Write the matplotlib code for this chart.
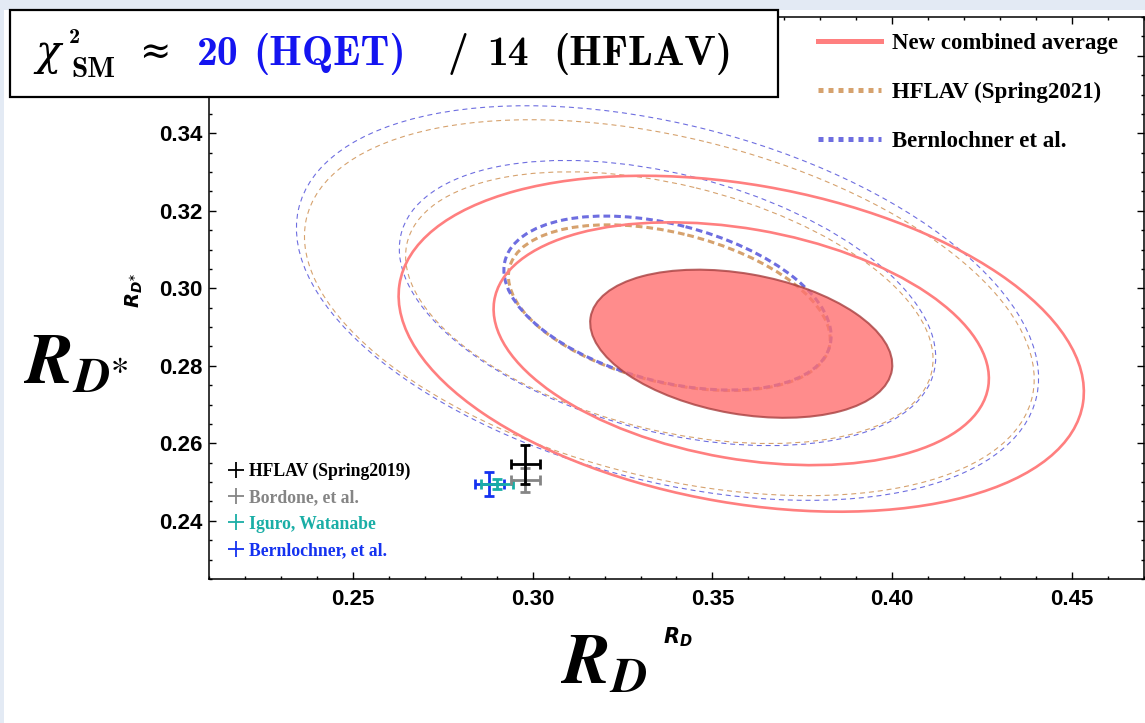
import numpy as np
import matplotlib
matplotlib.use("Agg")
import matplotlib.pyplot as plt
from matplotlib.patches import Ellipse, Rectangle
from matplotlib.lines import Line2D
from matplotlib.ticker import MultipleLocator, FormatStrFormatter, FuncFormatter

W, H = 1145, 723

# SM predictions (R_D, R_D*)
sm_names = ["HFLAV (Spring2019)", "Bordone, et al.", "Iguro, Watanabe", "Bernlochner, et al."]
sm_colors = ["#000000", "#858585", "#1aaea6", "#1432f0"]
sm_rd = [0.298, 0.298, 0.290, 0.288]
sm_rd_err = [0.004, 0.004, 0.0044, 0.004]
sm_rds = [0.2546, 0.2506, 0.2494, 0.2496]
sm_rds_err = [0.005, 0.0031, 0.0013, 0.0031]

# averages: centre, errors, correlation
fit_names = ["New combined average", "HFLAV (Spring2021)", "Bernlochner et al."]
fit_colors = ["#ff7f7f", "#d6a26e", "#6e6ee0"]
fit_rd = [0.358, 0.338, 0.3375]
fit_rds = [0.2857, 0.295, 0.2962]
fit_rd_err = [0.0277, 0.0295, 0.0300]
fit_rds_err = [0.0126, 0.0141, 0.0148]
fit_rho = [-0.286, -0.38, -0.38]
dchi2 = [2.30, 6.18, 11.83]  # 1,2,3 sigma for 2 dof

xticks = [0.25, 0.30, 0.35, 0.40, 0.45]
yticks = [0.24, 0.26, 0.28, 0.30, 0.32, 0.34, 0.36]


def px(x, y):
    # pixel (from top left) -> figure fraction
    return x / W, 1 - y / H


def ellipse(i, level, **kw):
    sx, sy, r = fit_rd_err[i], fit_rds_err[i], fit_rho[i]
    cov = np.array([[sx * sx, r * sx * sy], [r * sx * sy, sy * sy]])
    vals, vecs = np.linalg.eigh(cov)
    ang = np.degrees(np.arctan2(vecs[1, 1], vecs[0, 1]))
    return Ellipse((fit_rd[i], fit_rds[i]), 2 * np.sqrt(vals[1] * level),
                   2 * np.sqrt(vals[0] * level), angle=ang, **kw)


fig = plt.figure(figsize=(W / 100, H / 100), dpi=100)
fig.patch.set_facecolor("#e3eaf4")
fig.add_artist(Rectangle((4 / W, 0), 1, 1 - 10 / H, transform=fig.transFigure,
                         facecolor="white", edgecolor="none", zorder=-10))

l, b = px(209, 579)
r, t = px(1144, 17)
ax = fig.add_axes([l, b, r - l, t - b])
ax.set_xlim(0.21, 0.47)
ax.set_ylim(0.225, 0.37)

# dashed contours: HFLAV and Bernlochner
for i in [1, 2]:
    ax.add_patch(ellipse(i, dchi2[0], fill=False, edgecolor=fit_colors[i], lw=2.2,
                         ls=(0, (2.2, 1.3)), zorder=2))
    for lev in dchi2[1:]:
        ax.add_patch(ellipse(i, lev, fill=False, edgecolor=fit_colors[i], lw=0.8,
                             ls=(0, (4.5, 3.5)), zorder=2))

# new combined average
ax.add_patch(ellipse(0, dchi2[0], facecolor="#ff7070", edgecolor="#a84040", lw=1.5,
                     alpha=0.8, zorder=3))
for lev in dchi2[1:]:
    ax.add_patch(ellipse(0, lev, fill=False, edgecolor=fit_colors[0], lw=1.9, zorder=3))

# SM points
for i in [3, 2, 1, 0]:
    ax.errorbar(sm_rd[i], sm_rds[i], xerr=sm_rd_err[i], yerr=sm_rds_err[i],
                color=sm_colors[i], lw=2, capsize=3.5, capthick=2, zorder=4)

ax.xaxis.set_minor_locator(MultipleLocator(0.01))
ax.yaxis.set_minor_locator(MultipleLocator(0.005))
ax.set_xticks(xticks)
ax.set_yticks(yticks)
ax.xaxis.set_major_formatter(FormatStrFormatter("%.2f"))
# the 0.36 label sits behind the title box, leave it empty
ax.yaxis.set_major_formatter(FuncFormatter(lambda v, p: "" if v > 0.35 else "%.2f" % v))
ax.tick_params(which="both", direction="in", top=True, right=True, width=1)
ax.tick_params(which="major", length=5)
ax.tick_params(which="minor", length=2.5)
ax.tick_params(axis="x", pad=7)
ax.tick_params(axis="y", pad=5)
for lab in ax.get_xticklabels() + ax.get_yticklabels():
    lab.set_fontfamily("Liberation Sans")
    lab.set_fontweight("bold")
    lab.set_fontsize(16)
for s in ax.spines.values():
    s.set_linewidth(1.1)

# legends
h1 = [Line2D([], [], color=fit_colors[0], lw=3.6),
      Line2D([], [], color=fit_colors[1], lw=3.6, ls=(0, (1, 1))),
      Line2D([], [], color=fit_colors[2], lw=3.6, ls=(0, (1, 1)))]
leg1 = ax.legend(h1, fit_names, loc="upper left", bbox_to_anchor=px(818, 33),
                 bbox_transform=fig.transFigure, frameon=False,
                 prop={"family": "Liberation Serif", "weight": "bold", "size": 16.5},
                 handlelength=2.75, handletextpad=0.5, labelspacing=1.22,
                 borderpad=0, borderaxespad=0)
ax.add_artist(leg1)

h2 = [Line2D([], [], color=c, marker="+", ls="none", markersize=12, mew=1.3)
      for c in sm_colors]
leg2 = ax.legend(h2, sm_names, loc="upper left", bbox_to_anchor=px(228, 463),
                 bbox_transform=fig.transFigure, frameon=False, numpoints=1,
                 prop={"family": "Liberation Serif", "weight": "bold", "size": 12.7},
                 labelcolor="markeredgecolor", handlelength=0.9, handletextpad=0.3,
                 labelspacing=0.52, borderpad=0, borderaxespad=0)

# axis labels
fig.text(*px(24, 384), r"$\mathbfit{R}_{\mathbfit{D}^{\ast}}$", math_fontfamily="stix",
         fontsize=51, ha="left", va="baseline")
fig.text(*px(561, 684), r"$\mathbfit{R}_{\mathbfit{D}}$", math_fontfamily="stix",
         fontsize=51, ha="left", va="baseline")
fig.text(*px(134, 290), r"$\mathbfit{R}_{\mathbfit{D}^{\ast}}$", fontsize=14, rotation=90,
         ha="center", va="center", math_fontfamily="dejavusans")
fig.text(*px(663, 643), r"$\mathbfit{R}_{\mathbfit{D}}$", fontsize=15, ha="left",
         va="baseline", math_fontfamily="dejavusans")

# title box
fig.add_artist(Rectangle(px(10, 97), 768 / W, 87 / H, transform=fig.transFigure,
                         facecolor="white", edgecolor="black", lw=1.6, zorder=5))
title_parts = [
    ("\u03c7", 48, 65, 30, "black", "DejaVu Serif", "italic"),
    ("2", 74, 43, 16, "black", "cmb10", "normal"),
    ("SM", 93, 77, 21, "black", "cmb10", "normal"),
    ("\u2248", 155, 63, 27, "black", "DejaVu Serif", "normal"),
    ("20", 218, 65, 30, "#1414f0", "cmb10", "normal"),
    ("(HQET)", 330, 65, 30, "#1414f0", "cmb10", "normal"),
    ("/", 458, 65, 30, "black", "cmb10", "normal"),
    ("14", 508, 65, 30, "black", "cmb10", "normal"),
    ("(HFLAV)", 643, 65, 30, "black", "cmb10", "normal"),
]
for txt, xc, y0, fs, col, fam, sty in title_parts:
    fig.text(*px(xc, y0), txt, color=col, fontsize=fs, family=fam, style=sty,
             ha="center", va="baseline", zorder=6)

fig.savefig("out.png", dpi=100, facecolor=fig.get_facecolor())
